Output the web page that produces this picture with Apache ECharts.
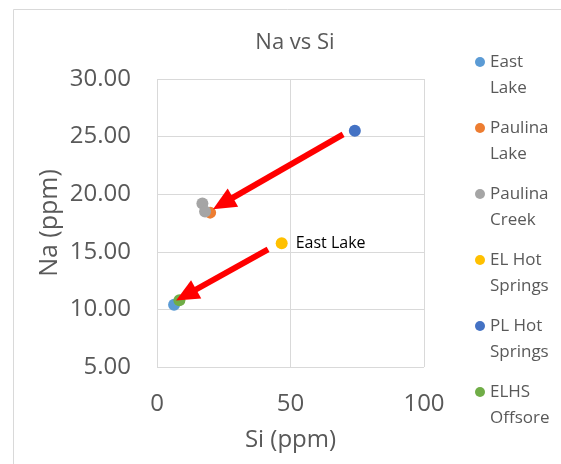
<!DOCTYPE html>
<html>
<head>
<meta charset="utf-8">
<script src="https://cdn.jsdelivr.net/npm/echarts@6/dist/echarts.min.js"></script>
<style>html,body{margin:0;padding:0;background:#fff}#c{width:561px;height:464px}</style>
</head>
<body>
<div id="c"></div>
<script>
const seriesNames = ['East\nLake', 'Paulina\nLake', 'Paulina\nCreek', 'EL Hot\nSprings', 'PL Hot\nSprings', 'ELHS\nOffsore'];
const eastLake = [[6.4, 10.4]];
const paulinaLake = [[19.9, 18.4]];
const paulinaCreek = [[17.0, 19.2], [18.0, 18.5]];
const elHotSprings = [[46.7, 15.75]];
const plHotSprings = [[74.1, 25.5]];
const elhsOffsore = [[8.4, 10.8]];
const pointLabel = 'East Lake';
const arrow1 = [[69.7, 25.2], [24.7, 19.2]];
const arrow2 = [[41.6, 15.2], [10.9, 11.25]];
const xTicks = [0, 50, 100];
const yTicks = [5, 10, 15, 20, 25, 30];

const colors = ['#5B9BD5', '#ED7D31', '#A5A5A5', '#FFC000', '#4472C4', '#70AD47'];
const dataSets = [eastLake, paulinaLake, paulinaCreek, elHotSprings, plHotSprings, elhsOffsore];
const FONT = 'Open Sans';

const series = seriesNames.map((name, i) => ({
  name: name,
  type: 'scatter',
  symbolSize: 12,
  itemStyle: { color: colors[i], opacity: 1 },
  data: dataSets[i].map(d => ({ value: d })),
  z: 3
}));
series[3].label = {
  show: true, position: 'right', distance: 8, formatter: pointLabel,
  color: '#000', fontFamily: FONT, fontSize: 16
};
series.push({
  type: 'scatter', name: 'arrows', data: [], silent: true,
  markLine: {
    silent: true, symbol: ['none', 'triangle'], symbolSize: [21, 23],
    label: { show: false },
    lineStyle: { color: '#FF0000', width: 6, type: 'solid' },
    emphasis: { disabled: true },
    data: [
      [{ coord: arrow1[0] }, { coord: arrow1[1] }],
      [{ coord: arrow2[0] }, { coord: arrow2[1] }]
    ]
  },
  z: 4
});

const chart = echarts.init(document.getElementById('c'), null, { renderer: 'canvas' });
chart.setOption({
  animation: false,
  backgroundColor: '#fff',
  textStyle: { fontFamily: FONT },
  graphic: [{
    type: 'rect', shape: { x: 13.5, y: 9.5, width: 700, height: 600 },
    style: { fill: 'none', stroke: '#D9D9D9', lineWidth: 1 }, z: -1
  }],
  title: {
    text: 'Na vs Si', left: 290, top: 27, textAlign: 'center',
    textStyle: { fontFamily: FONT, fontSize: 22, fontWeight: 'normal', color: '#595959' }
  },
  legend: {
    orient: 'vertical', left: 470, top: 18, itemGap: -12,
    itemWidth: 10, itemHeight: 10, icon: 'circle',
    data: seriesNames,
    formatter: n => '\n' + n,
    textStyle: { fontFamily: FONT, fontSize: 17, lineHeight: 26, color: '#595959' }
  },
  grid: { left: 157, right: 137, top: 79, bottom: 97 },
  xAxis: {
    type: 'value', min: xTicks[0], max: xTicks[xTicks.length - 1], interval: 50,
    name: 'Si (ppm)', nameLocation: 'middle', nameGap: 61,
    nameTextStyle: { fontFamily: FONT, fontSize: 24, color: '#595959' },
    axisLine: { show: false }, axisTick: { show: false },
    axisLabel: { fontFamily: FONT, fontSize: 24, color: '#595959', margin: 25 },
    splitLine: { show: true, lineStyle: { color: '#D9D9D9', width: 1 } }
  },
  yAxis: {
    type: 'value', min: yTicks[0], max: yTicks[yTicks.length - 1], interval: 5,
    name: 'Na (ppm)', nameLocation: 'middle', nameGap: 95,
    nameTextStyle: { fontFamily: FONT, fontSize: 25, color: '#595959' },
    axisLine: { show: false }, axisTick: { show: false },
    axisLabel: { fontFamily: FONT, fontSize: 24, color: '#595959', margin: 26,
      formatter: v => v.toFixed(2) },
    splitLine: { show: true, lineStyle: { color: '#D9D9D9', width: 1 } }
  },
  series: series
});
</script>
</body>
</html>
